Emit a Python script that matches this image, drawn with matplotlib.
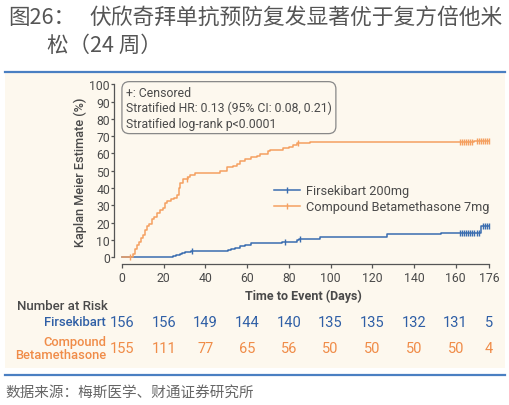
import numpy as np
import matplotlib
matplotlib.use('Agg')
import matplotlib.pyplot as plt
import matplotlib.transforms as mtransforms
from matplotlib.patches import Rectangle
from matplotlib.lines import Line2D

plt.rcParams['font.family'] = ['Roboto', 'Noto Sans CJK SC', 'DejaVu Sans']

# 数据：累计复发率 (1 - KM)，阶梯点
fir_t = [0, 24.6, 26, 28, 29, 30, 33, 51, 52.5, 54, 56.5, 59, 62, 76.5, 84, 84.8, 95, 127, 153, 172]
fir_v = [0, 0.7, 1.3, 2.0, 2.7, 3.3, 3.7, 4.3, 5.0, 5.6, 6.3, 7.0, 8.2, 8.9, 9.9, 10.8, 11.5, 13.2, 13.9, 18.2]
fir_cens = [33.4, 78, 85.5, 162, 163, 164, 165, 166, 167, 168, 169, 170, 171, 173, 174, 175, 176]

cb_t = [0, 5.5, 6.3, 7, 8, 9, 10, 11, 11.8, 13, 14.5, 15.5, 17, 18.2, 19.5, 20.5, 21.5, 23.5, 25,
        26.5, 27.5, 28, 29.4, 31.5, 32.6, 35, 39, 47, 50.2, 53, 55, 56.5, 59, 62, 64.6, 66, 70,
        71, 77, 80, 82, 84, 90, 169]
cb_v = [0, 2, 5, 7, 9, 11, 13, 16, 18, 19.5, 22, 23.5, 25.5, 27.5, 28.5, 31.5, 32.5, 33.5, 34.5,
        36, 40, 43, 45.5, 46.5, 47.5, 48.5, 49, 50, 52, 53, 54, 55.5, 57, 58, 58.8, 59.5, 61.5,
        62, 63, 64, 64.7, 66, 66.5, 67.3]
cb_cens = [4, 31, 84.5, 162, 163, 164, 165, 166, 167, 168, 170, 171, 172, 173, 174, 175, 176]

risk_days = [0, 20, 40, 60, 80, 100, 120, 140, 160, 176]
risk_fir = [156, 156, 149, 144, 140, 135, 135, 132, 131, 5]
risk_cb = [155, 111, 77, 65, 56, 50, 50, 50, 50, 4]

x_ticks = [0, 20, 40, 60, 80, 100, 120, 140, 160, 176]
y_ticks = list(range(0, 101, 10))

BLUE = '#3a6db0'
ORANGE = '#f5a060'
BLUE_T = '#2f5fa6'
ORANGE_T = '#f08c48'
CREAM = '#fdf8ee'
GREY = '#4a4a4a'

W, H = 510, 406


def px(x, y):
    return x / W, 1 - y / H


def step_at(t, ts, vs):
    i = np.searchsorted(ts, t, side='right') - 1
    return vs[max(i, 0)]


fig = plt.figure(figsize=(5.1, 4.06), dpi=100)
fig.patch.set_facecolor('white')

# 背景和分隔线
fig.patches.append(Rectangle(px(5, 369), 500 / W, (369 - 74) / H, transform=fig.transFigure,
                             facecolor=CREAM, edgecolor='none', zorder=-5))
fig.lines.append(Line2D([5 / W, 505 / W], [1 - 72.5 / H] * 2, transform=fig.transFigure,
                        color='#4a7fc2', lw=1.6))
fig.lines.append(Line2D([5 / W, 505 / W], [1 - 376 / H] * 2, transform=fig.transFigure,
                        color='#4a7fc2', lw=1.6))

fig.text(*px(8, 18), '图26：', fontsize=15.5, color='#555555', va='center', ha='left',
         family=['Noto Sans CJK SC'])
fig.text(*px(89, 18), '伏欣奇拜单抗预防复发显著优于复方倍他米', fontsize=15.7, color='#555555',
         va='center', ha='left', family=['Noto Sans CJK SC'])
fig.text(*px(47, 46), '松（24 周）', fontsize=15.5, color='#555555', va='center', ha='left',
         family=['Noto Sans CJK SC'])
fig.text(*px(5, 393), '数据来源：梅斯医学、财通证券研究所', fontsize=10.5, color='#666666',
         va='center', ha='left', family=['Noto Sans CJK SC'])

ax = fig.add_axes([114 / W, 1 - 264.5 / H, (493 - 114) / W, (264.5 - 80.1) / H], zorder=2)
ax.set_facecolor('none')
ax.set_xlim(-3.84, 177.9)
ax.set_ylim(-3.6, 103)

ax.step(fir_t + [176], fir_v + [fir_v[-1]], where='post', color=BLUE, lw=1.1)
ax.step(cb_t + [176], cb_v + [cb_v[-1]], where='post', color=ORANGE, lw=1.1)
ax.plot(fir_cens, [step_at(t, fir_t, fir_v) for t in fir_cens], ls='none', marker='|',
        ms=5, mew=1, color=BLUE)
ax.plot(cb_cens, [step_at(t, cb_t, cb_v) for t in cb_cens], ls='none', marker='|',
        ms=5, mew=1, color=ORANGE)

for s in ['top', 'right']:
    ax.spines[s].set_visible(False)
ax.spines['left'].set_bounds(0, 100)
ax.spines['bottom'].set_bounds(0, 176)
for s in ['left', 'bottom']:
    ax.spines[s].set_color('#555555')
    ax.spines[s].set_linewidth(0.9)
ax.set_xticks(x_ticks)
ax.set_yticks(y_ticks)
ax.tick_params(colors='#555555', labelcolor=GREY, labelsize=8.8, width=0.9)
ax.tick_params(axis='x', length=2.6, pad=3.0)
ax.tick_params(axis='y', length=2.3, pad=0.5)
ax.set_ylabel('Kaplan Meier Estimate (%)', fontsize=9.2, color=GREY, fontweight='medium', labelpad=2)
ax.set_xlabel('Time to Event (Days)', fontsize=9, color=GREY, fontweight='bold', labelpad=3)

ax.text(1.9, 99.2, '+: Censored\nStratified HR: 0.13 (95% CI: 0.08, 0.21)\nStratified log-rank p<0.0001',
        fontsize=8.8, color=GREY, va='top', ha='left', linespacing=1.22,
        bbox=dict(boxstyle='round,pad=0.33,rounding_size=0.6', facecolor=CREAM,
                  edgecolor='#888888', lw=0.9))

handles = [Line2D([], [], color=BLUE, lw=1.1, marker='|', ms=5),
           Line2D([], [], color=ORANGE, lw=1.1, marker='|', ms=5)]
ax.legend(handles, ['Firsekibart 200mg', 'Compound Betamethasone 7mg'], loc='upper left',
          bbox_to_anchor=px(274, 185.5), bbox_transform=fig.transFigure, frameon=False,
          fontsize=9.2, handlelength=2.0, handletextpad=0.5, labelspacing=0.22,
          borderaxespad=0, borderpad=0, labelcolor=GREY)

# 风险人数表
tr = mtransforms.blended_transform_factory(ax.transData, fig.transFigure)
fig.text(*px(17, 307), 'Number at Risk', fontsize=9.5, color=GREY, fontweight='medium', va='center')
fig.text(*px(106, 323), 'Firsekibart', fontsize=9.4, color=BLUE_T, fontweight='medium',
         va='center', ha='right')
fig.text(*px(106, 349), 'Compound\nBetamethasone', fontsize=9.3, color=ORANGE_T,
         fontweight='medium', va='center', ha='right', multialignment='right', linespacing=0.95)
for d, a, b in zip(risk_days, risk_fir, risk_cb):
    fig.text(d, 1 - 323 / H, str(a), transform=tr, fontsize=10.5, color=BLUE_T,
             ha='center', va='center')
    fig.text(d, 1 - 349 / H, str(b), transform=tr, fontsize=10.5, color=ORANGE_T,
             ha='center', va='center')

fig.savefig('out.png', dpi=100, facecolor='white')
